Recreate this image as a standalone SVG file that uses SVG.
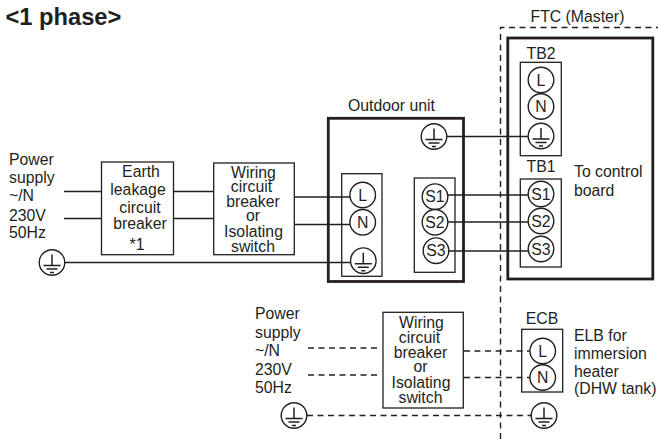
<svg xmlns="http://www.w3.org/2000/svg" width="658" height="439" viewBox="0 0 658 439">
<defs>
<style>
text{font-family:"Liberation Sans",Arial,sans-serif;font-size:15.8px;fill:#231f20}
.m{text-anchor:middle}
.box{fill:none;stroke:#231f20;stroke-width:1.3}
.hv{fill:none;stroke:#231f20;stroke-width:2.8}
.w{fill:none;stroke:#231f20;stroke-width:1.5}
.d{fill:none;stroke:#231f20;stroke-width:1.4;stroke-dasharray:6 4.5}
.c{fill:#fff;stroke:#231f20;stroke-width:1.4}
</style>
<g id="earth">
<circle class="c" r="12.8"/>
<path class="w" d="M0-8V3M-8.5 3H8.5M-5.5 6.5H5.5M-2 10H2"/>
</g>
</defs>
<rect width="658" height="439" fill="#fff"/>
<text x="5.5" y="25" style="font-size:23.7px;font-weight:bold">&lt;1 phase&gt;</text>
<g id="connectors">
<path class="d" d="M500.5 439V27.5H658"/>
<path class="w" d="M64 191.5H101.5M64 218.5H101.5M173.5 191.5H213.7M173.5 218.5H213.7M294.3 197H350M294.3 224.5H350M65 262.5H350M447 136.5H528M448 195H528M448 222H528M449 251H528"/>
<path class="d" d="M308 348H381M308 375H381M464 351H530M464 377.5H530M307 415.5H531"/>
</g>
<g id="outdoor-unit">
<rect class="hv" x="328.3" y="118.3" width="135.2" height="163.2"/>
<text x="348" y="111">Outdoor unit</text>
<use href="#earth" x="434" y="136.5"/>
<rect class="box" x="341.7" y="173.7" width="40.3" height="102.6"/>
<rect class="box" x="414.3" y="178" width="40.7" height="94.3"/>
<circle class="c" cx="362.7" cy="195" r="12.8"/><text class="m" x="362.7" y="200.6">L</text>
<circle class="c" cx="362.7" cy="222.3" r="12.8"/><text class="m" x="362.7" y="227.9">N</text>
<use href="#earth" x="363.3" y="260.7"/>
<circle class="c" cx="435" cy="196.7" r="12.8"/><text class="m" x="435" y="202.3">S1</text>
<circle class="c" cx="435" cy="222.3" r="12.8"/><text class="m" x="435" y="227.9">S2</text>
<circle class="c" cx="436" cy="250.7" r="12.8"/><text class="m" x="436" y="256.3">S3</text>
</g>
<g id="ftc-master">
<text x="530.5" y="22">FTC (Master)</text>
<rect class="hv" x="507.8" y="38" width="145" height="241"/>
<text class="m" x="541" y="59">TB2</text>
<rect class="box" x="520.3" y="62.3" width="41" height="93.4"/>
<circle class="c" cx="541" cy="80" r="12.8"/><text class="m" x="541" y="85.6">L</text>
<circle class="c" cx="541" cy="106.5" r="12.8"/><text class="m" x="541" y="112.1">N</text>
<use href="#earth" x="541" y="136"/>
<text class="m" x="541" y="171.7">TB1</text>
<rect class="box" x="520.3" y="179" width="41" height="88"/>
<circle class="c" cx="541" cy="194" r="12.8"/><text class="m" x="541" y="199.6">S1</text>
<circle class="c" cx="541" cy="221" r="12.8"/><text class="m" x="541" y="226.6">S2</text>
<circle class="c" cx="541" cy="249" r="12.8"/><text class="m" x="541" y="254.6">S3</text>
<text x="574" y="176.7">To control</text>
<text x="574" y="195.7">board</text>
</g>
<g id="power-supply-1">
<text x="9" y="165.3">Power</text>
<text x="9" y="183">supply</text>
<text x="9" y="201">~/N</text>
<text x="9" y="220.7">230V</text>
<text x="9" y="237.7">50Hz</text>
<use href="#earth" x="52" y="262.5"/>
</g>
<g id="earth-leakage-breaker">
<rect class="box" x="101.5" y="162" width="72" height="92.7"/>
<text class="m" x="141" y="176.7">Earth</text>
<text class="m" x="138" y="195">leakage</text>
<text class="m" x="140" y="212.7">circuit</text>
<text class="m" x="140" y="229.3">breaker</text>
<text class="m" x="137" y="250">*1</text>
</g>
<g id="wiring-breaker-1">
<rect class="box" x="213.7" y="163" width="80.6" height="91.7"/>
<text class="m" x="253.5" y="177.7">Wiring</text>
<text class="m" x="251.5" y="191.7">circuit</text>
<text class="m" x="253" y="206.7">breaker</text>
<text class="m" x="253" y="221">or</text>
<text class="m" x="253.5" y="237.3">Isolating</text>
<text class="m" x="253" y="251.7">switch</text>
</g>
<g id="power-supply-2">
<text x="255" y="319">Power</text>
<text x="255" y="337.7">supply</text>
<text x="255" y="355.7">~/N</text>
<text x="255" y="375">230V</text>
<text x="255" y="392.7">50Hz</text>
<use href="#earth" x="294" y="415.5"/>
</g>
<g id="wiring-breaker-2">
<rect class="box" x="383" y="312.3" width="80.3" height="95.7"/>
<text class="m" x="421.5" y="327.7">Wiring</text>
<text class="m" x="419.5" y="342.7">circuit</text>
<text class="m" x="420.5" y="358">breaker</text>
<text class="m" x="420.5" y="372.3">or</text>
<text class="m" x="421" y="388.3">Isolating</text>
<text class="m" x="420.5" y="403.3">switch</text>
</g>
<g id="ecb">
<text class="m" x="542" y="324">ECB</text>
<rect class="box" x="521.7" y="329.3" width="41" height="62.7"/>
<circle class="c" cx="542.7" cy="351" r="12.8"/><text class="m" x="542.7" y="356.6">L</text>
<circle class="c" cx="542.7" cy="377.5" r="12.8"/><text class="m" x="542.7" y="383.1">N</text>
<use href="#earth" x="544" y="415.5"/>
<text x="574" y="341">ELB for</text>
<text x="574" y="359.3">immersion</text>
<text x="574" y="376.7">heater</text>
<text x="574" y="394.3">(DHW tank)</text>
</g>
</svg>
